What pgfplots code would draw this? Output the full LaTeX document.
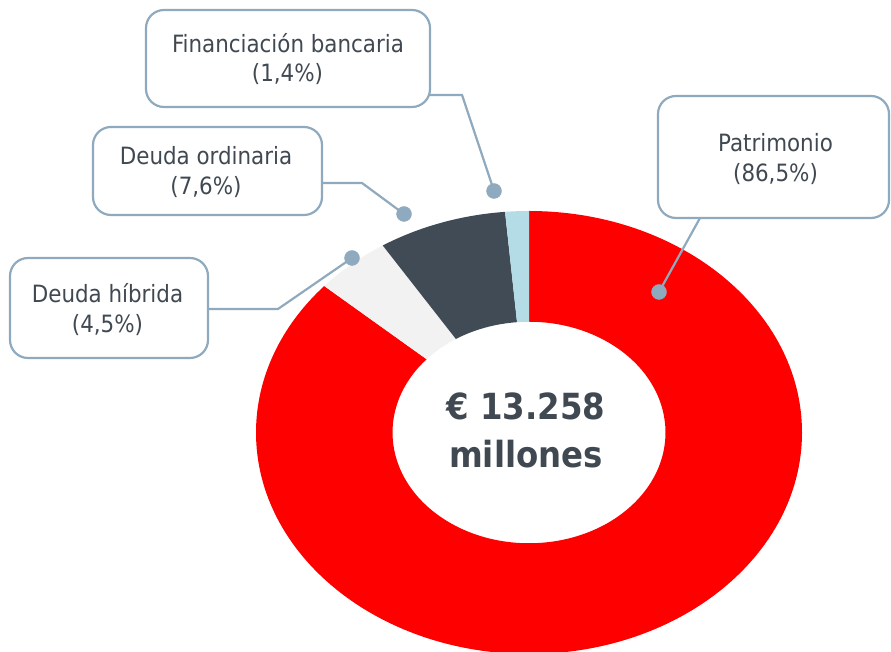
\documentclass[border=0pt]{standalone}
\usepackage{pgfplots}
\pgfplotsset{compat=1.18}
\usepackage{pgfplotstable}
\usepackage{fontspec}
\setmainfont{DejaVu Sans Condensed}
\definecolor{txt}{RGB}{64,73,82}
\definecolor{boxc}{RGB}{143,170,190}
\definecolor{cRed}{RGB}{255,0,0}
\definecolor{cLight}{RGB}{242,242,242}
\definecolor{cDark}{RGB}{65,75,85}
\definecolor{cBlue}{RGB}{180,220,230}

\pgfplotstableread{
label share color
Patrimonio 86.5 cRed
Hibrida 4.5 cLight
Ordinaria 7.6 cDark
Bancaria 1.4 cBlue
}\shares

\begin{document}
\begin{tikzpicture}
\path[use as bounding box] (0,0) rectangle (891bp,652bp);
\begin{axis}[
  at={(0,0)}, anchor=south west,
  width=891bp, height=652bp, scale only axis,
  xmin=0, xmax=891, ymin=0, ymax=652,
  hide axis, clip=false,
]
\pgfplotstablegetrowsof{\shares}
\pgfmathtruncatemacro\nrows{\pgfplotsretval-1}
\def\cum{0}
\pgfplotsforeachungrouped \i in {0,...,\nrows}{%
  \pgfplotstablegetelem{\i}{share}\of\shares \let\val\pgfplotsretval
  \pgfplotstablegetelem{\i}{color}\of\shares \let\col\pgfplotsretval
  \pgfmathsetmacro\a{90-3.6*\cum}%
  \pgfmathsetmacro\b{90-3.6*(\cum+\val)}%
  \pgfmathsetmacro\cum{\cum+\val}%
  \edef\temp{\noexpand\fill[\col] (axis cs:529,219.5) ++(\a:273bp and 221.5bp)
    arc[start angle=\a, end angle=\b, x radius=273bp, y radius=221.5bp]
    -- ++(\b:-136.5bp and -110.75bp)
    arc[start angle=\b, end angle=\a, x radius=136.5bp, y radius=110.75bp] -- cycle;}%
  \temp
}

% boxes
\draw[boxc, line width=2.2bp, rounded corners=18bp, fill=white] (axis cs:146,545) rectangle (axis cs:430,642);
\draw[boxc, line width=2.2bp, rounded corners=18bp, fill=white] (axis cs:93,437) rectangle (axis cs:322,525);
\draw[boxc, line width=2.2bp, rounded corners=18bp, fill=white] (axis cs:10,294) rectangle (axis cs:208,394);
\draw[boxc, line width=2.2bp, rounded corners=18bp, fill=white] (axis cs:658,434) rectangle (axis cs:889,556);

% connectors
\draw[boxc, line width=2.2bp] (axis cs:430,557) -- (axis cs:462,557) -- (axis cs:494,461);
\draw[boxc, line width=2.2bp] (axis cs:322,469) -- (axis cs:362,469) -- (axis cs:404,438);
\draw[boxc, line width=2.2bp] (axis cs:208,343) -- (axis cs:278,343) -- (axis cs:352,394);
\draw[boxc, line width=2.2bp] (axis cs:700,434) -- (axis cs:659,360);
\addplot[only marks, mark=*, mark size=7.5bp, color=boxc] coordinates {(494,461) (404,438) (352,394) (659,360)};

% labels
\tikzset{lab/.style={anchor=base, text=txt, inner sep=0pt, font=\fontsize{23.8bp}{30bp}\selectfont}}
\node[lab] at (axis cs:288,599) {Financiación bancaria};
\node[lab] at (axis cs:287.5,570) {(1,4\%)};
\node[lab] at (axis cs:206,487) {Deuda ordinaria};
\node[lab] at (axis cs:206,457) {(7,6\%)};
\node[lab] at (axis cs:107.5,349) {Deuda híbrida};
\node[lab] at (axis cs:107.5,319) {(4,5\%)};
\node[lab] at (axis cs:775.5,500) {Patrimonio};
\node[lab] at (axis cs:775.5,470) {(86,5\%)};

\tikzset{big/.style={anchor=base, text=txt, inner sep=0pt, font=\fontsize{36bp}{48bp}\selectfont\bfseries}}
\node[big] at (axis cs:526,232) {€ 13.258};
\node[big] at (axis cs:526,184) {millones};
\end{axis}
\end{tikzpicture}
\end{document}
